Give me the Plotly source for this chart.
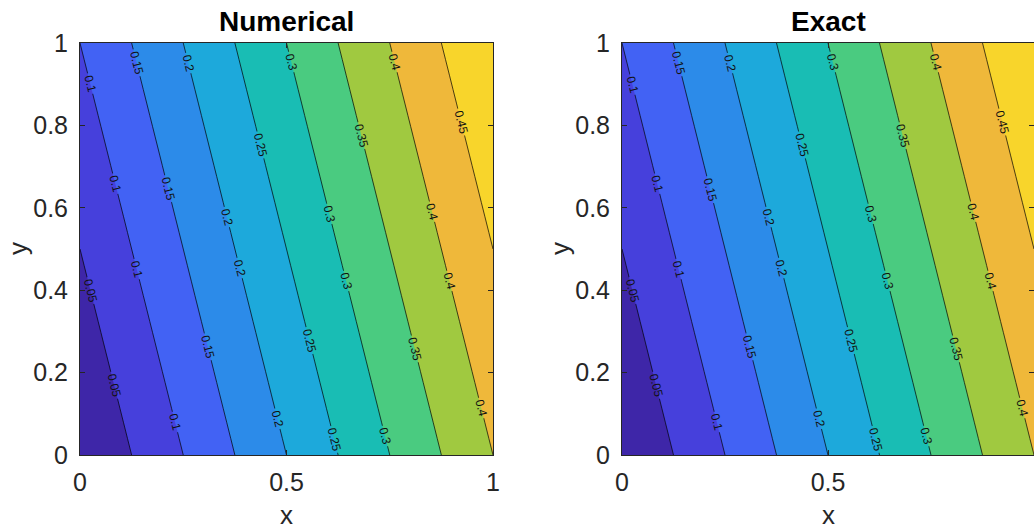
import plotly.graph_objects as go

# grid coordinates
x_vals = [0, 0.25, 0.5, 0.75, 1.0]
y_vals = [0, 0.25, 0.5, 0.75, 1.0]

# field values (rows: y, columns: x)
z_numerical = [
    [0.000, 0.100, 0.200, 0.300, 0.400],
    [0.025, 0.125, 0.225, 0.325, 0.425],
    [0.050, 0.150, 0.250, 0.350, 0.450],
    [0.075, 0.175, 0.275, 0.375, 0.475],
    [0.100, 0.200, 0.300, 0.400, 0.500],
]
z_exact = [
    [0.000, 0.100, 0.200, 0.300, 0.400],
    [0.025, 0.125, 0.225, 0.325, 0.425],
    [0.050, 0.150, 0.250, 0.350, 0.450],
    [0.075, 0.175, 0.275, 0.375, 0.475],
    [0.100, 0.200, 0.300, 0.400, 0.500],
]

titles = ["Numerical", "Exact"]
x_ticks = [0, 0.5, 1]
x_ticktext = ["0", "0.5", "1"]
y_ticks = [0, 0.2, 0.4, 0.6, 0.8, 1]
y_ticktext = ["0", "0.2", "0.4", "0.6", "0.8", "1"]

# parula band colours (10 bands)
band_colors = ["#3E26A8", "#4640DC", "#4262F4", "#2C8BE9", "#1DA9DB",
               "#19BDB4", "#4ACB80", "#A0C940", "#EFB83A", "#F8D52B"]

# stepped colorscale: plotly samples band k at (k+1)/11
n = len(band_colors)
cs = []
for k, c in enumerate(band_colors):
    lo = 0.0 if k == 0 else (k + 0.5) / (n + 1)
    hi = 1.0 if k == n - 1 else (k + 1.5) / (n + 1)
    cs.append([lo, c])
    cs.append([hi, c])

W, H = 1034, 529
FONT = "Arial, Liberation Sans, Helvetica, sans-serif"
AX = "#262626"

# line traces drawn in two halves (rows 0-2 and rows 2-4) so each half gets labels
row_halves = [(0, 3), (2, 5)]

fig = go.Figure()
for i, z in enumerate([z_numerical, z_exact]):
    xa = "x" if i == 0 else "x2"
    ya = "y" if i == 0 else "y2"
    fig.add_trace(go.Contour(
        x=x_vals, y=y_vals, z=z, xaxis=xa, yaxis=ya,
        autocontour=False,
        contours=dict(start=0, end=0.5, size=0.05, coloring="fill",
                      showlabels=False),
        line=dict(color="black", width=0),
        colorscale=cs, showscale=False, hoverinfo="skip",
    ))
    for (r0, r1) in row_halves:
        # level list runs past the data range (empty levels draw nothing)
        # so plotly spaces the labels more densely
        fig.add_trace(go.Contour(
            x=x_vals, y=y_vals[r0:r1], z=z[r0:r1], xaxis=xa, yaxis=ya,
            autocontour=False,
            contours=dict(start=0.05, end=4.85, size=0.05, coloring="none",
                          showlabels=True,
                          labelfont=dict(size=12, color="#111111", family=FONT),
                          labelformat=".2~f"),
            line=dict(color="black", width=0.7),
            showscale=False, hoverinfo="skip",
        ))

ydom = [1 - 455 / H, 1 - 43 / H]
xdoms = [[80 / W, 493 / W], [622 / W, 1.0]]

axis_common = dict(
    range=[0, 1], showgrid=False, zeroline=False, showline=True,
    linecolor=AX, linewidth=1, mirror="ticks", ticks="inside",
    ticklen=5, tickcolor=AX, tickwidth=1,
    tickfont=dict(size=25, color=AX, family=FONT), automargin=False,
)

layout = dict(
    width=W, height=H,
    margin=dict(l=0, r=0, t=0, b=0),
    paper_bgcolor="white", plot_bgcolor="white",
    showlegend=False,
    font=dict(family=FONT, color=AX),
)
for i in range(2):
    sx = "" if i == 0 else "2"
    layout["xaxis" + sx] = dict(axis_common, domain=xdoms[i], anchor="y" + sx,
                                tickmode="array", tickvals=x_ticks,
                                ticktext=x_ticktext, ticklabelstandoff=5)
    layout["yaxis" + sx] = dict(axis_common, domain=ydom, anchor="x" + sx,
                                tickmode="array", tickvals=y_ticks,
                                ticktext=y_ticktext, ticklabelstandoff=6)

fig.update_layout(**layout)

centers = [286, 828]
ylab_x = [18, 560]
for i in range(2):
    fig.add_annotation(x=centers[i] / W, y=1 - 21 / H, xref="paper", yref="paper",
                       text="<b>" + titles[i] + "</b>", showarrow=False,
                       font=dict(size=28, color="black", family=FONT),
                       xanchor="center", yanchor="middle")
    fig.add_annotation(x=centers[i] / W, y=1 - 515 / H, xref="paper", yref="paper",
                       text="x", showarrow=False,
                       font=dict(size=26, color=AX, family=FONT),
                       xanchor="center", yanchor="middle")
    fig.add_annotation(x=ylab_x[i] / W, y=1 - 249 / H, xref="paper", yref="paper",
                       text="y", showarrow=False, textangle=-90,
                       font=dict(size=26, color=AX, family=FONT),
                       xanchor="center", yanchor="middle")

fig.write_html("out.html")
